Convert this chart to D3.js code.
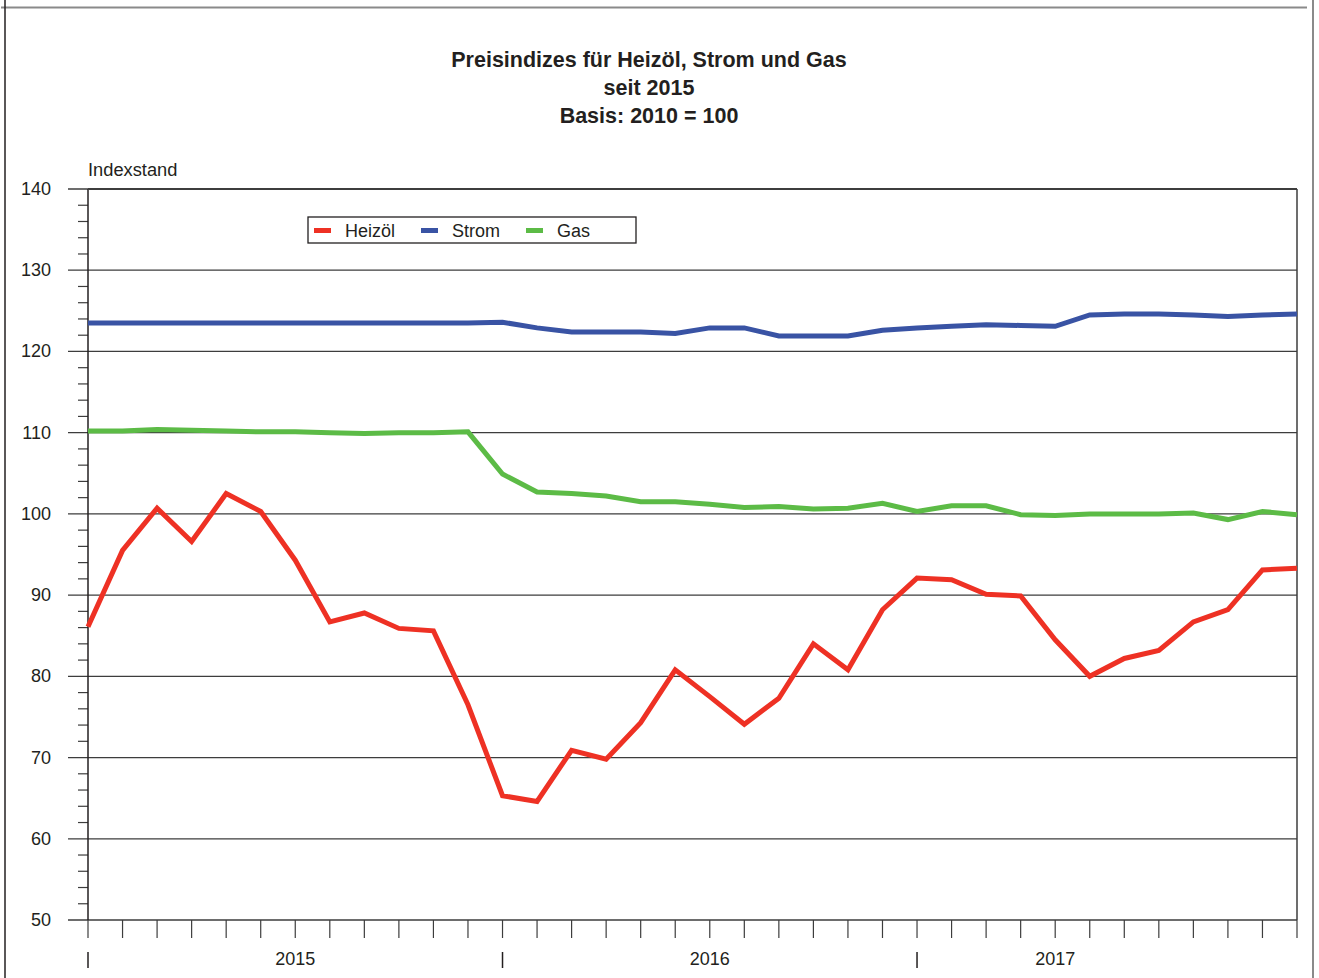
<!DOCTYPE html>
<html lang="de">
<head>
    <meta charset="UTF-8">
    <title>Preisindizes für Heizöl, Strom und Gas</title>
    <script src="https://d3js.org/d3.v7.min.js"></script>
    <style>
        body { margin: 0; background: #fff; font-family: "Liberation Sans", Arial, sans-serif; }
        svg text { fill: #231f20; }
    </style>
</head>
<body>
    <svg width="1319" height="978"></svg>

    <script>
        // Monatswerte Jan 2015 - Dez 2017, Basis 2010 = 100
        const heizoel = [86.1, 95.5, 100.7, 96.6, 102.5, 100.3, 94.3, 86.7, 87.8, 85.9, 85.6, 76.5,
                         65.3, 64.6, 70.9, 69.8, 74.3, 80.8, 77.5, 74.1, 77.3, 84.0, 80.8, 88.2,
                         92.1, 91.9, 90.1, 89.9, 84.5, 80.0, 82.2, 83.2, 86.7, 88.2, 93.1, 93.3];
        const strom = [123.5, 123.5, 123.5, 123.5, 123.5, 123.5, 123.5, 123.5, 123.5, 123.5, 123.5, 123.5,
                       123.6, 122.9, 122.4, 122.4, 122.4, 122.2, 122.9, 122.9, 121.9, 121.9, 121.9, 122.6,
                       122.9, 123.1, 123.3, 123.2, 123.1, 124.5, 124.6, 124.6, 124.5, 124.3, 124.5, 124.6];
        const gas = [110.2, 110.2, 110.4, 110.3, 110.2, 110.1, 110.1, 110.0, 109.9, 110.0, 110.0, 110.1,
                     104.9, 102.7, 102.5, 102.2, 101.5, 101.5, 101.2, 100.8, 100.9, 100.6, 100.7, 101.3,
                     100.3, 101.0, 101.0, 99.9, 99.8, 100.0, 100.0, 100.0, 100.1, 99.3, 100.3, 99.9];

        const seriesNames = ["Heizöl", "Strom", "Gas"];
        const seriesColors = ["#ee3124", "#3953a4", "#5cbb46"];
        const years = ["2015", "2016", "2017"];
        const yearLabelAt = [6, 18, 28];   // Monatsindex, über dem die Jahreszahl steht
        const yearStarts = [0, 12, 24];
        const yTicks = [50, 60, 70, 80, 90, 100, 110, 120, 130, 140];

        const svg = d3.select("svg");
        const pLeft = 88, pRight = 1297, pTop = 189, pBottom = 920;

        const x = d3.scaleLinear().domain([0, heizoel.length - 1]).range([pLeft, pRight]);
        const y = d3.scaleLinear().domain([50, 140]).range([pBottom, pTop]);

        // Rahmen der Seite
        svg.append("line").attr("x1", 1).attr("x2", 1307).attr("y1", 7.5).attr("y2", 7.5)
            .attr("stroke", "#8a8a8a").attr("stroke-width", 2);
        svg.append("line").attr("x1", 5).attr("x2", 5).attr("y1", 0).attr("y2", 978)
            .attr("stroke", "#231f20").attr("stroke-width", 1.5);
        svg.append("line").attr("x1", 1313).attr("x2", 1313).attr("y1", 0).attr("y2", 978)
            .attr("stroke", "#8a8a8a").attr("stroke-width", 2);

        // Titel
        const titel = ["Preisindizes für Heizöl, Strom und Gas", "seit 2015", "Basis: 2010 = 100"];
        svg.selectAll(".title")
            .data(titel)
            .enter()
            .append("text")
            .attr("class", "title")
            .attr("x", 649)
            .attr("y", (d, i) => 67 + i * 28)
            .attr("text-anchor", "middle")
            .style("font-size", "21.5px")
            .style("font-weight", "bold")
            .text(d => d);

        svg.append("text")
            .attr("x", 88)
            .attr("y", 176)
            .style("font-size", "18.3px")
            .text("Indexstand");

        // Gitterlinien + y-Achse
        svg.selectAll(".grid")
            .data(yTicks)
            .enter()
            .append("line")
            .attr("x1", 68)
            .attr("x2", pRight)
            .attr("y1", d => y(d))
            .attr("y2", d => y(d))
            .attr("stroke", "#3d3d3d")
            .attr("stroke-width", 1.3);

        const minorTicks = d3.range(52, 140, 2).filter(d => d % 10 !== 0);
        svg.selectAll(".minor")
            .data(minorTicks)
            .enter()
            .append("line")
            .attr("x1", 78)
            .attr("x2", pLeft)
            .attr("y1", d => y(d))
            .attr("y2", d => y(d))
            .attr("stroke", "#3d3d3d")
            .attr("stroke-width", 1.2);

        svg.selectAll(".ylab")
            .data(yTicks)
            .enter()
            .append("text")
            .attr("x", 51)
            .attr("y", d => y(d) + 6)
            .attr("text-anchor", "end")
            .style("font-size", "18px")
            .text(d => d);

        // Achsen / Rahmen des Diagramms
        svg.append("line").attr("x1", pLeft).attr("x2", pLeft).attr("y1", pTop).attr("y2", pBottom)
            .attr("stroke", "#231f20").attr("stroke-width", 1.5);
        svg.append("line").attr("x1", pRight).attr("x2", pRight).attr("y1", pTop).attr("y2", pBottom)
            .attr("stroke", "#3d3d3d").attr("stroke-width", 1.5);
        svg.append("line").attr("x1", pLeft).attr("x2", pRight).attr("y1", pTop).attr("y2", pTop)
            .attr("stroke", "#3d3d3d").attr("stroke-width", 1.8);

        // x-Achse: Monatsstriche
        svg.selectAll(".xtick")
            .data(d3.range(heizoel.length))
            .enter()
            .append("line")
            .attr("x1", d => x(d))
            .attr("x2", d => x(d))
            .attr("y1", pBottom)
            .attr("y2", pBottom + 18)
            .attr("stroke", "#3d3d3d")
            .attr("stroke-width", 1.2);

        svg.selectAll(".ysep")
            .data(yearStarts)
            .enter()
            .append("line")
            .attr("x1", d => x(d))
            .attr("x2", d => x(d))
            .attr("y1", 952)
            .attr("y2", 968)
            .attr("stroke", "#231f20")
            .attr("stroke-width", 1.5);

        svg.selectAll(".year")
            .data(years)
            .enter()
            .append("text")
            .attr("x", (d, i) => x(yearLabelAt[i]))
            .attr("y", 965)
            .attr("text-anchor", "middle")
            .style("font-size", "18px")
            .text(d => d);

        // Linien
        const line = d3.line()
            .x((d, i) => x(i))
            .y(d => y(d));

        [heizoel, strom, gas].forEach((s, k) => {
            svg.append("path")
                .datum(s)
                .attr("fill", "none")
                .attr("stroke", seriesColors[k])
                .attr("stroke-width", 5)
                .attr("stroke-linejoin", "miter")
                .attr("d", line);
        });

        // Legende
        const legend = svg.append("g").attr("transform", "translate(308, 217)");
        legend.append("rect")
            .attr("width", 328)
            .attr("height", 26)
            .attr("fill", "#fff")
            .attr("stroke", "#231f20")
            .attr("stroke-width", 1.3);

        const legendX = [6, 113, 218];
        const items = legend.selectAll(".legend-item")
            .data(seriesNames)
            .enter()
            .append("g")
            .attr("transform", (d, i) => `translate(${legendX[i]}, 13)`);

        items.append("rect")
            .attr("x", 0)
            .attr("y", -2)
            .attr("width", 17)
            .attr("height", 5)
            .attr("fill", (d, i) => seriesColors[i]);

        items.append("text")
            .attr("x", 31)
            .attr("y", 6.5)
            .style("font-size", "18px")
            .text(d => d);
    </script>
</body>
</html>
